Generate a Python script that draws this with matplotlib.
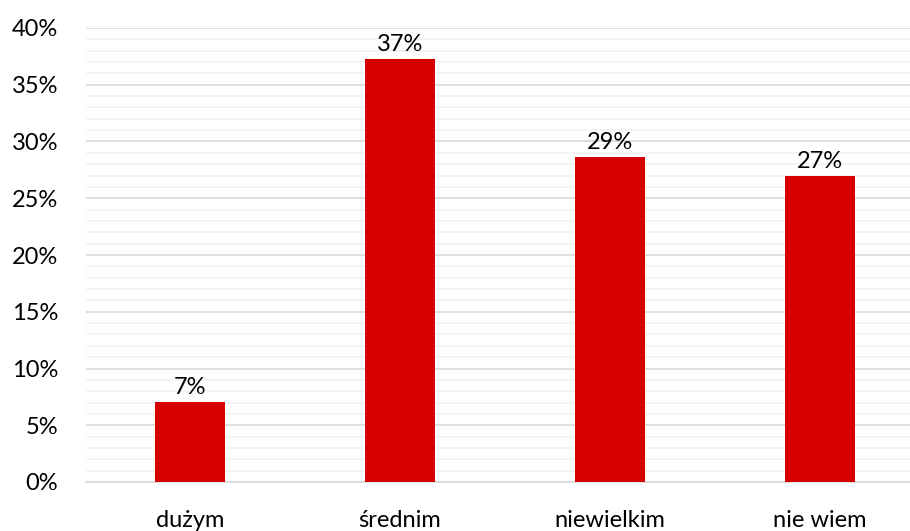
import matplotlib
matplotlib.use("Agg")
import matplotlib.pyplot as plt
from matplotlib.ticker import MultipleLocator, FuncFormatter

categories = ["dużym", "średnim", "niewielkim", "nie wiem"]
values = [7.05, 37.3, 28.6, 26.95]
labels = ["7%", "37%", "29%", "27%"]

plt.rcParams['font.family'] = ['Lato', 'DejaVu Sans']

fig = plt.figure(figsize=(9.10, 5.31), dpi=100)
ax = fig.add_axes([86/910, 1-482/531, 1-86/910, (482-28)/531])

x = list(range(len(categories)))
bars = ax.bar(x, values, width=0.333, color="#d60000", zorder=3)
for xi, v, lab in zip(x, values, labels):
    ax.text(xi, v + 0.35, lab, ha="center", va="bottom", fontsize=17, color="#000000")

ax.set_ylim(0, 40)
ax.set_xlim(-0.495, 3.43)
ax.yaxis.set_major_locator(MultipleLocator(5))
ax.yaxis.set_minor_locator(MultipleLocator(1))
ax.yaxis.set_major_formatter(FuncFormatter(lambda v, p: f"{int(v)}%"))
ax.grid(axis="y", which="major", color="#d9d9d9", linewidth=1.2, zorder=0)
ax.grid(axis="y", which="minor", color="#f2f2f2", linewidth=1.2, zorder=0)
ax.set_xticks(x)
ax.set_xticklabels(categories)
ax.tick_params(axis="both", which="both", length=0, labelsize=17, colors="#000000")
ax.tick_params(axis="x", pad=20)
ax.tick_params(axis="y", pad=20)
for s in ["top", "right", "left"]:
    ax.spines[s].set_visible(False)
ax.spines["bottom"].set_color("#d9d9d9")
ax.spines["bottom"].set_linewidth(1.2)

fig.savefig("out.png", dpi=100)
